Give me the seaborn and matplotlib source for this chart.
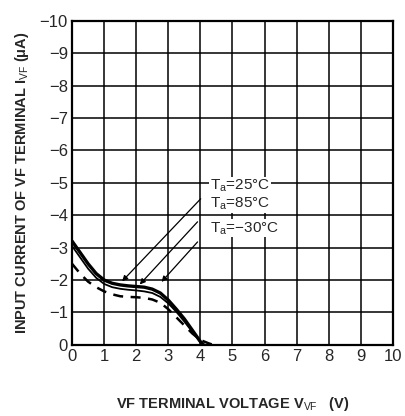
import pandas as pd
import matplotlib
matplotlib.use("Agg")
import matplotlib.pyplot as plt
import seaborn as sns

# VF terminal voltage (V) and input current (uA)
vf = [0, 0.25, 0.5, 0.75, 1.0, 1.25, 1.5, 1.75, 2.0, 2.25, 2.5, 2.75, 3.0, 3.25, 3.5, 3.75, 4.0, 4.1]
i_25 = [-3.2, -2.85, -2.5, -2.2, -2.0, -1.9, -1.85, -1.82, -1.8, -1.78, -1.72, -1.6, -1.38, -1.1, -0.8, -0.45, -0.1, 0]
i_85 = [-3.05, -2.7, -2.35, -2.07, -1.88, -1.78, -1.73, -1.7, -1.68, -1.65, -1.6, -1.48, -1.28, -1.02, -0.72, -0.4, -0.08, 0]

vf_m30 = [0, 0.25, 0.5, 0.75, 1.0, 1.25, 1.5, 1.75, 2.0, 2.25, 2.5, 2.75, 3.0, 3.25, 3.5, 3.75, 4.0, 4.25, 4.4]
i_m30 = [-2.5, -2.2, -1.95, -1.78, -1.65, -1.56, -1.5, -1.48, -1.47, -1.45, -1.4, -1.3, -1.1, -0.85, -0.6, -0.35, -0.15, -0.05, 0]

labels = ["T$_\\mathrm{a}$=25°C", "T$_\\mathrm{a}$=85°C", "T$_\\mathrm{a}$=−30°C"]
label_y = [-4.9, -4.35, -3.6]
arrow_start = [(4.07, -4.57), (3.97, -3.86), (3.97, -3.24)]
arrow_end = [(1.5, -1.9), (2.05, -1.8), (2.73, -1.88)]

x_ticks = list(range(0, 11))
y_ticks = list(range(0, -11, -1))
y_ticklabels = ["0"] + ["−%d" % abs(v) for v in y_ticks[1:]]

sns.set_style("white")
plt.rcParams['font.family'] = ['Liberation Sans', 'DejaVu Sans']
plt.rcParams['mathtext.fontset'] = 'custom'
plt.rcParams['mathtext.rm'] = 'Liberation Sans'

fig = plt.figure(figsize=(4.05, 4.16), dpi=100)
ax = fig.add_axes([0.178, 0.171, 0.792, 0.779])

df25 = pd.DataFrame({"vf": vf, "i": i_25})
df85 = pd.DataFrame({"vf": vf, "i": i_85})
dfm30 = pd.DataFrame({"vf": vf_m30, "i": i_m30})

sns.lineplot(data=df25, x="vf", y="i", ax=ax, color="black", lw=2.4)
sns.lineplot(data=df85, x="vf", y="i", ax=ax, color="black", lw=1.3)
sns.lineplot(data=dfm30, x="vf", y="i", ax=ax, color="black", lw=1.8, linestyle=(0, (4, 3)))

for lab, ly, s, e in zip(labels, label_y, arrow_start, arrow_end):
    ax.text(4.3, ly, lab, fontsize=11, va="center", ha="left",
            bbox=dict(facecolor="white", edgecolor="none", pad=0.5))
    ax.annotate("", xy=e, xytext=s,
                arrowprops=dict(arrowstyle="-|>", color="black", lw=0.9, mutation_scale=8))

ax.set_xlim(0, 10)
ax.set_ylim(0, -10)
ax.set_xticks(x_ticks)
ax.set_yticks(y_ticks)
ax.set_yticklabels(y_ticklabels)
ax.tick_params(length=0, labelsize=12, pad=3)
ax.grid(True, color="black", lw=1.1)
for sp in ax.spines.values():
    sp.set_visible(True)
    sp.set_color("black")
    sp.set_linewidth(1.6)

ax.set_xlabel("VF TERMINAL VOLTAGE V$_\\mathrm{VF}$   (V)", fontsize=10.5, fontweight="bold", labelpad=22)
ax.set_ylabel("INPUT CURRENT OF VF TERMINAL I$_\\mathrm{VF}$ (μA)", fontsize=10.5, fontweight="bold", labelpad=6)

fig.savefig("out.png", dpi=100)
